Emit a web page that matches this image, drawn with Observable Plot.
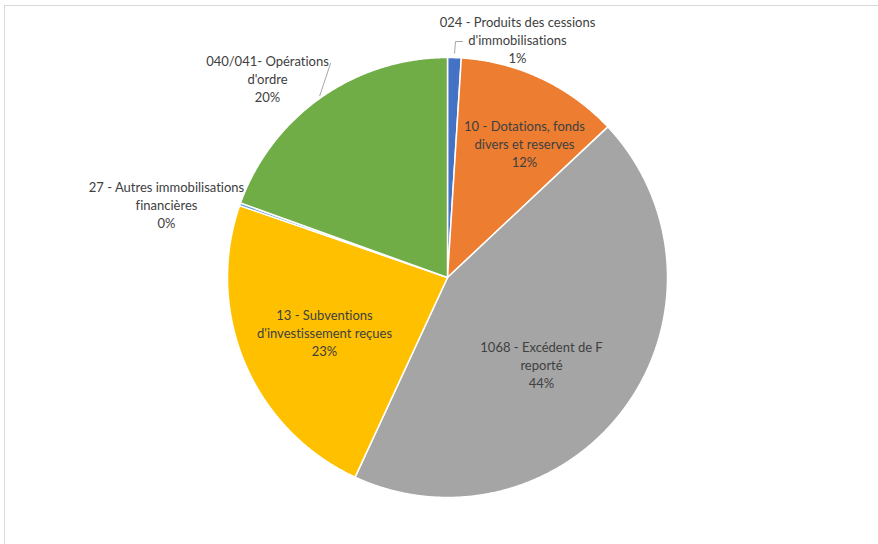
<!DOCTYPE html>
<html>
<head>
<meta charset="utf-8">
<script src="https://cdn.jsdelivr.net/npm/d3@7"></script>
<script src="https://cdn.jsdelivr.net/npm/@observablehq/plot@0.6"></script>
<style>
  html, body { margin: 0; padding: 0; background: #fff; overflow: hidden; }
  #wrap { position: relative; width: 878px; height: 544px; }
  #frame { position: absolute; left: 4px; top: 5px; right: 0; bottom: -2px;
           border-top: 1px solid #d9d9d9; border-left: 1px solid #d9d9d9; pointer-events: none; }
  svg text { font-variant-ligatures: none; }
</style>
</head>
<body>
<div id="wrap"><div id="frame"></div></div>
<script>
// ---- data ----
const categories = [
  "024 - Produits des cessions\nd'immobilisations",
  "10 - Dotations, fonds\ndivers et reserves",
  "1068 - Excédent de F\nreporté",
  "13 - Subventions\nd'investissement reçues",
  "27 - Autres immobilisations\nfinancières",
  "040/041- Opérations\nd'ordre"
];
const values = [1.0, 12.0, 43.9, 23.4, 0.2, 19.5];
const colors = ["#4472C4", "#ED7D31", "#A5A5A5", "#FFC000", "#5B9BD5", "#70AD47"];

// ---- layout (pixels of the 878x544 canvas) ----
const W = 878, H = 544, CX = 447, CY = 277, R = 220;
const labelPx = [[517, 39], [524, 143], [541, 364], [324, 332], [166, 204], [267, 78]];
const ux = px => (px - CX) / R, uy = py => (CY - py) / R;

const rows = categories.map((c, i) => ({name: c, value: values[i]}));
const total = d3.sum(values);
const arcs = d3.pie().sort(null).value(d => d.value).startAngle(0).endAngle(2 * Math.PI)(rows);

const slicePts = arcs.flatMap(a => {
  const name = a.data.name;
  const n = Math.max(2, Math.ceil((a.endAngle - a.startAngle) / 0.005));
  const p = [{name, x: 0, y: 0}];
  for (let k = 0; k <= n; k++) {
    const t = a.startAngle + (a.endAngle - a.startAngle) * k / n;
    p.push({name, x: Math.sin(t), y: Math.cos(t)});
  }
  p.push({name, x: 0, y: 0});
  return p;
});

const labels = arcs.map((a, i) => ({
  text: a.data.name + "\n" + Math.round(a.data.value / total * 100) + "%",
  x: ux(labelPx[i][0]), y: uy(labelPx[i][1])
}));

const mid = a => (a.startAngle + a.endAngle) / 2;
const onArc = (a, r) => ({x: r * Math.sin(mid(a)), y: r * Math.cos(mid(a))});
const leaders = [
  [{x: ux(462), y: uy(41)}, {x: ux(455), y: uy(41)}, onArc(arcs[0], 1.02)].map(p => ({...p, g: "a"})),
  [{x: ux(330), y: uy(63)}, onArc(arcs[5], 1.01)].map(p => ({...p, g: "b"}))
].flat();

const chart = Plot.plot({
  width: W, height: H,
  marginLeft: 0, marginRight: 0, marginTop: 0, marginBottom: 0,
  x: {domain: [ux(0), ux(W)], range: [0, W], axis: null},
  y: {domain: [uy(H), uy(0)], range: [H, 0], axis: null},
  color: {domain: categories, range: colors},
  style: {background: "transparent", overflow: "visible"},
  marks: [
    Plot.line(slicePts, {x: "x", y: "y", z: "name", fill: "name", stroke: "white", strokeWidth: 1.5, strokeLinejoin: "round"}),
    Plot.line(leaders, {x: "x", y: "y", z: "g", stroke: "#a6a6a6", strokeWidth: 1}),
    Plot.text(labels, {x: "x", y: "y", text: "text", fill: "#404040", fontSize: 13, lineHeight: 1.38,
      fontFamily: "Lato, 'Open Sans', sans-serif"})
  ]
});
document.getElementById("wrap").prepend(chart);
</script>
</body>
</html>
